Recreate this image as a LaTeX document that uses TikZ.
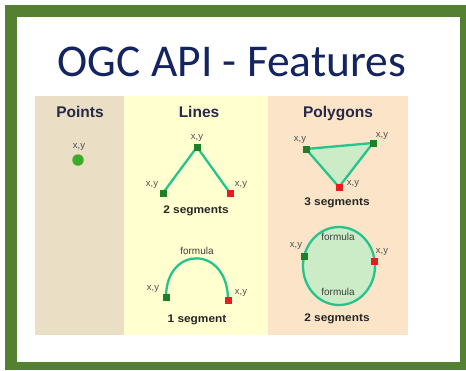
\documentclass[tikz,border=0pt]{standalone}
\usepackage{fontspec}
\setmainfont{Liberation Sans}
\newfontfamily\titlefont{Carlito}
\definecolor{framegreen}{RGB}{84,128,50}
\definecolor{titlenavy}{RGB}{20,36,96}
\definecolor{ptpanel}{RGB}{234,223,196}
\definecolor{lnpanel}{RGB}{255,255,208}
\definecolor{pgpanel}{RGB}{252,228,200}
\definecolor{teal}{RGB}{36,196,140}
\definecolor{polyfill}{RGB}{204,236,200}
\definecolor{sqgreen}{RGB}{30,128,40}
\definecolor{sqred}{RGB}{228,30,30}
\definecolor{dotgreen}{RGB}{60,172,40}
\definecolor{headcol}{RGB}{40,40,72}
\definecolor{smallgray}{RGB}{80,80,80}
\tikzset{
  header/.style={font=\bfseries\fontsize{15.5}{17}\selectfont, text=headcol, inner sep=0pt, anchor=base},
  seglabel/.style={font=\bfseries\fontsize{11}{12}\selectfont, text=black!85, inner sep=0pt, anchor=base, xscale=1.08},
  xy/.style={font=\fontsize{9.5}{10}\selectfont, text=smallgray, inner sep=0pt},
  formula/.style={font=\fontsize{10}{11}\selectfont, text=black!75, inner sep=0pt},
  gsq/.style={rectangle, fill=sqgreen, minimum size=7pt, inner sep=0pt},
  rsq/.style={rectangle, fill=sqred, minimum size=7pt, inner sep=0pt},
  conn/.style={draw=teal, line width=2.3pt},
}
\begin{document}
\begin{tikzpicture}[x=1pt,y=-1pt]
\useasboundingbox (0,0) rectangle (466,370);
\fill[white] (0,0) rectangle (466,370);
% frame
\fill[framegreen] (5,5) rectangle (466,370);
\fill[white] (17,17) rectangle (460,362);
% title
\node[font=\titlefont\fontsize{45.5}{48}\selectfont, text=titlenavy, anchor=base, inner sep=0pt] (title) at (232,76) {OGC API - Features};
% panels
\fill[ptpanel] (35,96) rectangle (124,335);
\fill[lnpanel] (124,96) rectangle (268,335);
\fill[pgpanel] (268,96) rectangle (408,335);
% headers
\node[header] (hp) at (80,117) {Points};
\node[header] (hl) at (199,117) {Lines};
\node[header] (hg) at (338,117) {Polygons};
% point
\node[xy] (pxy) at (79,147) {x,y};
\node[circle, fill=dotgreen, minimum size=11.5pt, inner sep=0pt] (pt) at (78,160) {};
% lines: 2 segments
\coordinate (la) at (163,193);
\coordinate (lb) at (197,147);
\coordinate (lc) at (230,193);
\draw[conn] (la) -- (lb) -- (lc);
\node[gsq] (laq) at (la) {};
\node[gsq] (lbq) at (lb) {};
\node[rsq] (lcq) at (lc) {};
\node[xy] (laxy) at (152,185) {x,y};
\node[xy] (lbxy) at (197,138) {x,y};
\node[xy] (lcxy) at (241,185) {x,y};
\node[seglabel] (l2s) at (196,213) {2 segments};
% lines: 1 segment
\node[formula] (lform) at (197,251) {formula};
\coordinate (ad) at (166,297);
\coordinate (ae) at (228,300);
\draw[conn] (ad) .. controls (166,245) and (228,245) .. (ae);
\node[gsq] (ldq) at (ad) {};
\node[rsq] (leq) at (ae) {};
\node[xy] (ldxy) at (153,289) {x,y};
\node[xy] (lexy) at (241,293) {x,y};
\node[seglabel] (l1s) at (197,322) {1 segment};
% polygon triangle
\coordinate (ta) at (306,149);
\coordinate (tb) at (373,143);
\coordinate (tc) at (339,187);
\filldraw[conn, fill=polyfill] (ta) -- (tb) -- (tc) -- cycle;
\node[gsq] (taq) at (ta) {};
\node[gsq] (tbq) at (tb) {};
\node[rsq] (tcq) at (tc) {};
\node[xy] (taxy) at (300,140) {x,y};
\node[xy] (tbxy) at (382,136) {x,y};
\node[xy] (tcxy) at (353,184) {x,y};
\node[seglabel] (g3s) at (337,205) {3 segments};
% polygon circle
\coordinate (cc) at (339,266);
\filldraw[conn, fill=polyfill] (cc) ellipse [x radius=36pt, y radius=39pt];
\node[gsq] (cgq) at (304,256) {};
\node[rsq] (crq) at (374,261) {};
\node[xy] (cgxy) at (296,246) {x,y};
\node[xy] (crxy) at (382,252) {x,y};
\node[formula] (cf1) at (338,237) {formula};
\node[formula] (cf2) at (338,292) {formula};
\node[seglabel] (g2s) at (337,321) {2 segments};
\end{tikzpicture}
\end{document}
